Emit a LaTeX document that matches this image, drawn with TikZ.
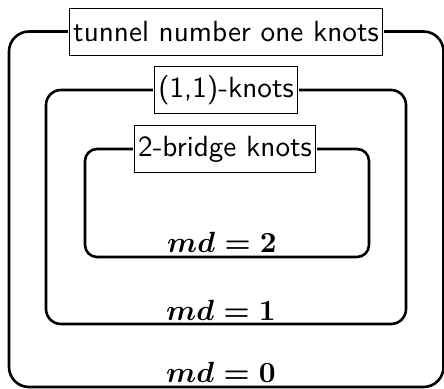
\documentclass[tikz,border=0pt]{standalone}
\usepackage{amsmath}
\begin{document}
\begin{tikzpicture}[x=1pt,y=-1pt,
  lab/.style={draw,line width=0.9pt,fill=white,font=\fontsize{10}{12}\selectfont\sffamily,
    scale=2.92,inner xsep=1.4pt,inner ysep=0pt,minimum height=16.1pt},
  frame/.style={line width=2.6pt},
  mdlab/.style={font=\fontsize{10}{12}\selectfont\boldmath,scale=2.92,anchor=base,inner sep=0pt}]
\useasboundingbox (0,0) rectangle (444,388);
% outer
\node[lab] (t1) at (226,31.5) {tunnel number one knots};
\draw[frame,rounded corners=20pt] (t1.west) -- (9,31.5) -- (9,387) -- (443.5,387) -- (443.5,31.5) -- (t1.east);
% middle
\node[lab] (t2) at (226,90) {(1,1)-knots};
\draw[frame,rounded corners=15pt] (t2.west) -- (46,90) -- (46,324) -- (406,324) -- (406,90) -- (t2.east);
% inner
\node[lab] (t3) at (225,149) {2-bridge knots};
\draw[frame,rounded corners=12pt] (t3.west) -- (85,149) -- (85,257) -- (369,257) -- (369,149) -- (t3.east);
% labels
\node[mdlab] (m2) at (222,252) {$md=2$};
\node[mdlab] (m1) at (221,320) {$md=1$};
\node[mdlab] (m0) at (221,382) {$md=0$};
\end{tikzpicture}
\end{document}
